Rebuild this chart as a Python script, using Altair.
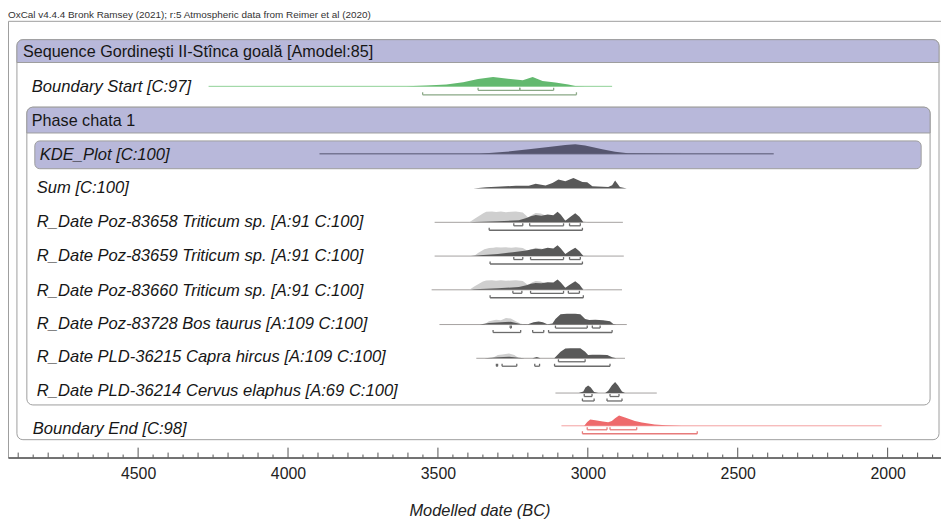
import altair as alt
import pandas as pd

# ---------------- text ----------------
TOP_NOTE = "OxCal v4.4.4 Bronk Ramsey (2021); r:5 Atmospheric data from Reimer et al (2020)"
SEQUENCE_LABEL = "Sequence Gordinești II-Stînca goală [Amodel:85]"
PHASE_LABEL = "Phase chata 1"
AXIS_TITLE = "Modelled date (BC)"
AXIS_LABELS = [4500, 4000, 3500, 3000, 2500, 2000]
X_DOMAIN = [1822, 4934]
TICK_YEARS = list(range(1850, 4950, 50))

ROW_LABELS = [
    "Boundary Start [C:97]",
    "KDE_Plot [C:100]",
    "Sum [C:100]",
    "R_Date Poz-83658 Triticum sp. [A:91 C:100]",
    "R_Date Poz-83659 Triticum sp. [A:91 C:100]",
    "R_Date Poz-83660 Triticum sp. [A:91 C:100]",
    "R_Date Poz-83728 Bos taurus [A:109 C:100]",
    "R_Date PLD-36215 Capra hircus [A:109 C:100]",
    "R_Date PLD-36214 Cervus elaphus [A:69 C:100]",
    "Boundary End [C:98]",
]

# ---------------- distributions (years BC, relative density) ----------------
start_years = [3604, 3538, 3472, 3416, 3366, 3316, 3250, 3217, 3184, 3151, 3108, 3065, 3042, 3009]
start_dens = [0, 0.07, 0.17, 0.38, 0.68, 0.85, 0.64, 0.55, 0.85, 0.48, 0.34, 0.17, 0.04, 0]
start_line = [4265, 2919]
start_inner = [(3366, 3227), (3227, 3114)]
start_outer = [(3551, 3038)]

kde_years = [3362, 3273, 3197, 3124, 3075, 3042, 3009, 2952, 2909, 2866, 2777, 2678]
kde_dens = [0, 0.18, 0.43, 0.64, 0.8, 0.88, 0.77, 0.43, 0.2, 0.06, 0.02, 0]
kde_line = [3895, 2380]

sum_years = [3382, 3339, 3290, 3240, 3197, 3174, 3141, 3118, 3098, 3075, 3048, 3018, 3002, 2985,
             2932, 2919, 2909, 2893, 2870]
sum_dens = [0, 0.12, 0.2, 0.25, 0.25, 0.43, 0.27, 0.52, 0.82, 0.66, 0.97, 0.61, 0.57, 0.21,
            0.15, 0.3, 0.75, 0.15, 0]

r58_light_years = [3395, 3379, 3350, 3339, 3320, 3306, 3290, 3273, 3255, 3240, 3217, 3205, 3200,
                   3185, 3174, 3157, 3134, 3101, 3075, 3042, 3015, 3000]
r58_light = [0, 0.3, 0.8, 0.97, 1.0, 0.95, 1.0, 0.93, 0.97, 1.0, 0.9, 0.6, 0.45,
             0.7, 0.85, 0.8, 0.55, 0.4, 0.2, 0.3, 0.1, 0]
r58_dark_years = [3395, 3379, 3300, 3230, 3205, 3190, 3174, 3155, 3134, 3115, 3101, 3090, 3075,
                  3058, 3042, 3028, 3015]
r58_dark = [0, 0.04, 0.1, 0.18, 0.4, 0.55, 0.66, 0.6, 0.72, 0.65, 0.97, 0.7, 0.15, 0.5, 0.82, 0.5, 0]
r58_line = [3511, 2883]
r58_inner = [(3247, 3217), (3194, 3081), (3061, 3025)]
r58_outer = [(3329, 3018)]

r59_light_years = [3380, 3365, 3345, 3329, 3315, 3306, 3290, 3273, 3255, 3240, 3217, 3205, 3200,
                   3185, 3174, 3157, 3134, 3101, 3075, 3042, 3015, 3000]
r59_light = [0, 0.3, 0.62, 0.73, 0.75, 0.8, 0.78, 0.8, 0.76, 0.8, 0.74, 0.55, 0.5,
             0.65, 0.75, 0.7, 0.5, 0.4, 0.2, 0.3, 0.1, 0]
r59_dark_years = [3390, 3360, 3300, 3250, 3205, 3190, 3174, 3155, 3134, 3115, 3101, 3090, 3075,
                  3058, 3042, 3028, 3015]
r59_dark = [0, 0.08, 0.2, 0.35, 0.5, 0.6, 0.66, 0.62, 0.75, 0.7, 1.0, 0.7, 0.2, 0.5, 0.75, 0.45, 0]
r59_line = [3511, 2880]
r59_inner = [(3247, 3217), (3191, 3081), (3061, 3025)]
r59_outer = [(3326, 3018)]

r60_light_years = r58_light_years
r60_light = [0, 0.3, 0.75, 0.85, 0.88, 0.84, 0.88, 0.82, 0.85, 0.88, 0.8, 0.55, 0.45,
             0.7, 0.8, 0.75, 0.5, 0.4, 0.2, 0.3, 0.1, 0]
r60_dark_years = r58_dark_years
r60_dark = [0, 0.05, 0.15, 0.25, 0.42, 0.55, 0.62, 0.6, 0.7, 0.66, 0.95, 0.68, 0.18, 0.5, 0.78, 0.48, 0]
r60_line = [3521, 2886]
r60_inner = [(3250, 3220), (3191, 3081), (3065, 3028)]
r60_outer = [(3326, 3015)]

r28_light_years = [3345, 3330, 3306, 3290, 3273, 3257, 3240, 3225, 3210]
r28_light = [0, 0.3, 0.45, 0.4, 0.6, 0.55, 0.3, 0.1, 0]
r28_dark_years = [3360, 3330, 3290, 3257, 3225, 3200, 3181, 3164, 3150, 3135, 3118, 3108, 3091,
                  3070, 3042, 3025, 3009, 2995, 2975, 2949, 2926, 2915, 2905]
r28_dark = [0, 0.15, 0.2, 0.25, 0.05, 0.02, 0.2, 0.28, 0.2, 0.02, 0.1, 0.5, 0.95,
            1.0, 1.0, 0.95, 0.5, 0.42, 0.45, 0.4, 0.3, 0.05, 0]
r28_line = [3495, 2870]
r28_inner = [(3259, 3255), (3108, 3002), (2985, 2959)]
r28_outer = [(3316, 3224), (3184, 3147), (3131, 2919)]

p15_light_years = [3320, 3300, 3285, 3263, 3245, 3230]
p15_light = [0, 0.3, 0.35, 0.45, 0.3, 0]
p15_dark_years = [3345, 3300, 3262, 3230, 3210, 3185, 3170, 3158, 3112, 3091, 3075, 3058, 3025,
                  3009, 2999, 2985, 2960, 2935, 2919, 2905]
p15_dark = [0, 0.1, 0.15, 0.05, 0, 0, 0.12, 0, 0, 0.6, 0.9, 0.93, 0.93,
            0.6, 0.3, 0.33, 0.33, 0.3, 0.1, 0]
p15_line = [3372, 2876]
p15_inner = [(3098, 3009)]
p15_outer = [(3305, 3301), (3286, 3237), (3177, 3161), (3111, 2926)]

p14_dark_years = [3030, 3015, 3008, 2999, 2990, 2979, 2965, 2942, 2932, 2920, 2909, 2899, 2886, 2876]
p14_dark = [0, 0.15, 0.5, 0.7, 0.5, 0.1, 0, 0, 0.2, 0.7, 1.0, 0.7, 0.15, 0]
p14_line = [3108, 2770]
p14_inner = [(3012, 2986), (2926, 2896)]
p14_outer = [(3018, 2979), (2936, 2886)]

end_years = [3012, 3002, 2992, 2975, 2950, 2932, 2920, 2909, 2896, 2876, 2843, 2820, 2777, 2740, 2688]
end_dens = [0, 0.35, 0.58, 0.5, 0.4, 0.33, 0.45, 0.7, 0.94, 0.75, 0.45, 0.3, 0.12, 0.05, 0]
end_line = [3088, 2020]
end_inner = [(3002, 2936), (2926, 2837)]
end_outer = [(3018, 2635)]

# ---------------- layout & style ----------------
W, H = 940, 440
PEAK = 11
FONT = "Liberation Sans"
LABEL_SIZE = 16.7
HEADER_SIZE = 16.3
LABEL_X = [24, 32, 29, 29, 29, 29, 29, 29, 29, 25]
LABEL_Y = [67, 135, 168, 203, 237, 272, 305, 339, 373, 411]
BASE_Y = [66, 134, 169, 203, 237, 271, 306, 340, 375, 408]

GREEN_AREA, GREEN_LINE, GREEN_RANGE = "#63b96f", "#8fd197", "#8aa886"
RED_AREA, RED_LINE, RED_RANGE = "#ee6a6c", "#f3a0a0", "#e77b7b"
DARK, LIGHT, GREY_LINE, GREY_RANGE = "#595959", "#cfcfcf", "#a5a1a0", "#6b6b6b"
KDE_COL = "#55556f"
PURPLE, BOX_STROKE = "#b8b8da", "#9d9d9d"
TEXT_COL = "#161616"

xs = alt.Scale(domain=X_DOMAIN, reverse=True, nice=False, zero=False)
ys = alt.Scale(domain=[0, H], reverse=True, nice=False, zero=False)
AX = alt.Axis(values=AXIS_LABELS, format="d", ticks=False, grid=False, domainColor="#555555",
              domainWidth=1.5, labelFont=FONT, labelFontSize=16, labelColor="#222222",
              labelPadding=8, title=AXIS_TITLE, titleFont=FONT, titleFontSize=16.5,
              titleFontStyle="italic", titleFontWeight="normal", titleColor="#222222",
              titlePadding=21, titleX=475, titleAlign="center")


def X(f):
    return alt.X(f, type="quantitative", scale=xs, axis=AX)


def Y(f):
    return alt.Y(f, type="quantitative", scale=ys, axis=None)


def one():
    return pd.DataFrame({"k": [0]})


def box(x0, x1, y0, y1, fill, **kw):
    return alt.Chart(one()).mark_rect(fill=fill, stroke=BOX_STROKE, strokeWidth=1, **kw).encode(
        x=alt.value(x0), x2=alt.value(x1), y=alt.value(y0), y2=alt.value(y1))


def area(years, dens, base, color):
    df = pd.DataFrame({"year": years, "top": [base - d * PEAK for d in dens], "base": base})
    return alt.Chart(df).mark_area(color=color, interpolate="linear").encode(
        x=X("year"), y=Y("top"), y2=alt.Y2("base"))


def hline(span, base, color, width=1.0):
    df = pd.DataFrame({"s": [span[0]], "e": [span[1]], "y": [base]})
    return alt.Chart(df).mark_rule(color=color, strokeWidth=width).encode(
        x=X("s"), x2=alt.X2("e"), y=Y("y"))


def brackets(intervals, ybar, color):
    df = pd.DataFrame({"s": [a for a, b in intervals], "e": [b for a, b in intervals], "y": ybar})
    ends = pd.DataFrame({"x": [v for iv in intervals for v in iv], "y": ybar, "yt": ybar - 2.5})
    h = alt.Chart(df).mark_rule(color=color, strokeWidth=1.3).encode(
        x=X("s"), x2=alt.X2("e"), y=Y("y"))
    v = alt.Chart(ends).mark_rule(color=color, strokeWidth=1.3).encode(
        x=X("x"), y=Y("y"), y2=alt.Y2("yt"))
    return [h, v]


def label(txt, px, py, italic=True, size=LABEL_SIZE, color=TEXT_COL):
    return alt.Chart(pd.DataFrame({"t": [txt]})).mark_text(
        align="left", baseline="middle", font=FONT, fontSize=size,
        fontStyle="italic" if italic else "normal", color=color).encode(
        x=alt.value(px), y=alt.value(py), text="t:N")


layers = []
# frames
layers.append(box(9, 938, 19, 422, "white", cornerRadius=6))
layers.append(box(9, 938, 19, 42, PURPLE, cornerRadiusTopLeft=6, cornerRadiusTopRight=6))
layers.append(box(19, 929, 87, 387, "white", cornerRadius=6))
layers.append(box(19, 929, 87, 113, PURPLE, cornerRadiusTopLeft=6, cornerRadiusTopRight=6))
layers.append(box(27, 920, 121, 149, PURPLE, cornerRadius=5))

# Boundary Start
layers.append(hline(start_line, BASE_Y[0], GREEN_LINE))
layers.append(area(start_years, start_dens, BASE_Y[0], GREEN_AREA))
layers += brackets(start_inner, BASE_Y[0] + 4, GREEN_RANGE)
layers += brackets(start_outer, BASE_Y[0] + 8.5, GREEN_RANGE)

# KDE
layers.append(hline(kde_line, BASE_Y[1], KDE_COL))
layers.append(area(kde_years, kde_dens, BASE_Y[1], KDE_COL))

# Sum
layers.append(area(sum_years, sum_dens, BASE_Y[2], DARK))

rdates = [
    (r58_light_years, r58_light, r58_dark_years, r58_dark, r58_line, r58_inner, r58_outer),
    (r59_light_years, r59_light, r59_dark_years, r59_dark, r59_line, r59_inner, r59_outer),
    (r60_light_years, r60_light, r60_dark_years, r60_dark, r60_line, r60_inner, r60_outer),
    (r28_light_years, r28_light, r28_dark_years, r28_dark, r28_line, r28_inner, r28_outer),
    (p15_light_years, p15_light, p15_dark_years, p15_dark, p15_line, p15_inner, p15_outer),
    (None, None, p14_dark_years, p14_dark, p14_line, p14_inner, p14_outer),
]
for i, (ly, ld, dy, dd, ln, inner, outer) in enumerate(rdates):
    b = BASE_Y[3 + i]
    layers.append(hline(ln, b, GREY_LINE))
    if ly is not None:
        layers.append(area(ly, ld, b, LIGHT))
    layers.append(area(dy, dd, b, DARK))
    layers += brackets(inner, b + 3.5, GREY_RANGE)
    layers += brackets(outer, b + 8, GREY_RANGE)

# Boundary End
layers.append(hline(end_line, BASE_Y[9], RED_LINE))
layers.append(area(end_years, end_dens, BASE_Y[9], RED_AREA))
layers += brackets(end_inner, BASE_Y[9] + 4, RED_RANGE)
layers += brackets(end_outer, BASE_Y[9] + 8, RED_RANGE)

# texts
layers.append(label(SEQUENCE_LABEL, 15, 31, italic=False, size=HEADER_SIZE))
layers.append(label(PHASE_LABEL, 24, 101, italic=False, size=HEADER_SIZE))
for txt, px, py in zip(ROW_LABELS, LABEL_X, LABEL_Y):
    layers.append(label(txt, px, py))

# axis ticks
tick_df = pd.DataFrame({"year": TICK_YEARS})
tick_df["y0"] = H
tick_df["y1"] = [H - (10 if y % 500 == 0 else 5 if y % 100 == 0 else 3) for y in TICK_YEARS]
layers.append(alt.Chart(tick_df).mark_rule(color="#555555", strokeWidth=1).encode(
    x=X("year"), y=Y("y0"), y2=alt.Y2("y1")))

# top note
layers.append(alt.Chart(pd.DataFrame({"t": [TOP_NOTE]})).mark_text(
    align="left", baseline="bottom", font=FONT, fontSize=10, color="#333333").encode(
    x=alt.value(0), y=alt.value(-1), text="t:N"))

chart = alt.layer(*layers).properties(width=W, height=H, padding=0).configure_view(
    stroke=BOX_STROKE, strokeWidth=1)

chart.save("out.html", embed_options={"renderer": "svg", "actions": False})
